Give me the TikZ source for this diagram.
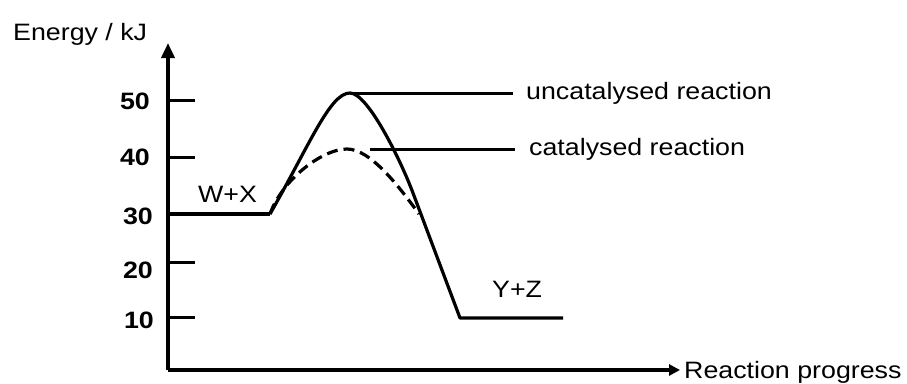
\documentclass[tikz,border=0pt]{standalone}
\usepackage{fontspec}
\setmainfont[FakeStretch=1.13]{Liberation Sans}
\usetikzlibrary{arrows.meta}
\begin{document}
\begin{tikzpicture}[x=1pt,y=-1pt,
  lbl/.style={inner sep=0pt, font=\fontsize{23.7}{28}\selectfont},
  num/.style={inner sep=0pt, anchor=east, font=\fontsize{23.7}{28}\selectfont\bfseries},
  axisline/.style={line width=3.6pt},
  tickline/.style={line width=3pt},
  curve/.style={line width=3.2pt, line join=round},
  dashcurve/.style={line width=3.2pt, dash pattern=on 11pt off 6pt},
  leader/.style={line width=3pt}]
\useasboundingbox (0,0) rectangle (907,383);
% axes
\coordinate (O) at (168,370);
\coordinate (ytop) at (168,43);
\node[lbl, anchor=base west] (xlab) at (684,378) {Reaction progress};
\draw[axisline, -{Triangle[length=15pt,width=13pt]}] (O) -- (ytop);
\draw[axisline, -{Triangle[length=11pt,width=11pt]}, shorten >=4pt] (O) -- (O -| xlab.west);
% ticks
\draw[tickline] (168,100) -- (195,100);
\draw[tickline] (168,157) -- (195,157);
\draw[tickline] (168,262) -- (195,262);
\draw[tickline] (168,317) -- (195,317);
% tick labels
\node[num] (n50) at (150,101) {50};
\node[num] (n40) at (150,157) {40};
\node[num] (n30) at (153,216) {30};
\node[num] (n20) at (153,270) {20};
\node[num] (n10) at (154,320) {10};
% key points
\coordinate (start) at (270,214);
\coordinate (peakU) at (350,93);
\coordinate (peakC) at (370,149);
\coordinate (endU) at (460,318);
\coordinate (endP) at (563,318);
% reactant level
\draw[curve] (168,214) -- (start);
% uncatalysed
\draw[curve] (start) .. controls (310,144) and (330,93) .. (peakU)
  .. controls (368,93) and (401,161) .. (413,193) -- (endU) -- (endP);
% catalysed
\draw[dashcurve] (start) .. controls (282,180) and (322,149) .. (347,149)
  .. controls (370,149) and (398,185) .. (419,214);
% labels
\node[lbl, anchor=base west] (ylab) at (13,40) {Energy / kJ};
\node[lbl, anchor=base west] (unc) at (526,99) {uncatalysed reaction};
\node[lbl, anchor=base west] (cat) at (529,155) {catalysed reaction};
\node[lbl, anchor=base west] (wx) at (198,202) {W+X};
\node[lbl, anchor=base west] (yz) at (492,297) {Y+Z};
% leader lines
\draw[leader, shorten >=13pt] (peakU) -- (peakU -| unc.west);
\draw[leader, shorten >=14pt] (peakC) -- (peakC -| cat.west);
\end{tikzpicture}
\end{document}
